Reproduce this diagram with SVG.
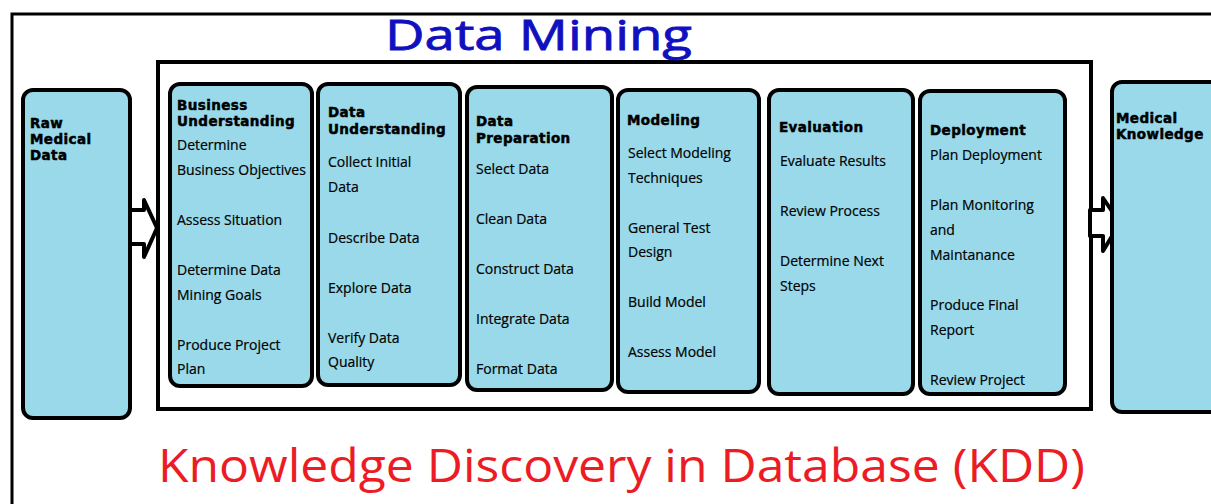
<svg xmlns="http://www.w3.org/2000/svg" width="1211" height="504" viewBox="0 0 1211 504">
<style>
.box{fill:#99d9ea;stroke:#000;stroke-width:4}
.hd{font-family:"DejaVu Sans",sans-serif;font-weight:bold;font-size:13.5px;letter-spacing:0.4px;fill:#000;stroke:#000;stroke-width:0.5}
.it{font-family:"Open Sans","Liberation Sans",sans-serif;font-size:14px;fill:#000;stroke:#000;stroke-width:0.2}
.arr{fill:#fff;stroke:#000;stroke-width:4;stroke-linejoin:round}
</style>
<rect width="1211" height="504" fill="#fff"/>
<rect x="12" y="14" width="1300" height="600" fill="none" stroke="#000" stroke-width="3"/>
<rect id="data-mining-frame" x="158" y="62" width="933" height="347" fill="none" stroke="#000" stroke-width="4"/>
<text x="385" y="50" font-family="Open Sans, sans-serif" font-size="42" fill="#1010c0" stroke="#1010c0" stroke-width="0.8" textLength="307" lengthAdjust="spacingAndGlyphs">Data Mining</text>
<text x="158" y="482" font-family="Open Sans, sans-serif" font-size="46" fill="#ec1c24" textLength="927" lengthAdjust="spacingAndGlyphs">Knowledge Discovery in Database (KDD)</text>

<g id="connectors">
<polygon class="arr" points="130,210 144,210 144,200 157,228 144,257 144,244 130,244"/>
<polygon class="arr" points="1090,210 1103,210 1103,198 1120,223 1103,251 1103,236 1090,236"/>
</g>

<g id="raw">
<rect class="box" x="23" y="90" width="107" height="328" rx="10"/>
<text class="hd" x="30" y="128">Raw</text>
<text class="hd" x="30" y="144">Medical</text>
<text class="hd" x="30" y="160">Data</text>
</g>

<g id="business">
<rect class="box" x="170" y="84" width="142" height="302" rx="10"/>
<text class="hd" x="177" y="110">Business</text>
<text class="hd" x="177" y="126">Understanding</text>
<text class="it" x="177" y="150">Determine</text>
<text class="it" x="177" y="175">Business Objectives</text>
<text class="it" x="177" y="225">Assess Situation</text>
<text class="it" x="177" y="275">Determine Data</text>
<text class="it" x="177" y="300">Mining Goals</text>
<text class="it" x="177" y="350">Produce Project</text>
<text class="it" x="177" y="374">Plan</text>
</g>

<g id="data-understanding">
<rect class="box" x="318" y="84" width="142" height="301" rx="10"/>
<text class="hd" x="328" y="117">Data</text>
<text class="hd" x="328" y="134">Understanding</text>
<text class="it" x="328" y="167">Collect Initial</text>
<text class="it" x="328" y="192">Data</text>
<text class="it" x="328" y="243">Describe Data</text>
<text class="it" x="328" y="293">Explore Data</text>
<text class="it" x="328" y="343">Verify Data</text>
<text class="it" x="328" y="367">Quality</text>
</g>

<g id="data-preparation">
<rect class="box" x="467" y="87" width="145" height="303" rx="10"/>
<text class="hd" x="476" y="126">Data</text>
<text class="hd" x="476" y="143">Preparation</text>
<text class="it" x="476" y="174">Select Data</text>
<text class="it" x="476" y="224">Clean Data</text>
<text class="it" x="476" y="274">Construct Data</text>
<text class="it" x="476" y="324">Integrate Data</text>
<text class="it" x="476" y="374">Format Data</text>
</g>

<g id="modeling">
<rect class="box" x="618" y="90" width="141" height="302" rx="10"/>
<text class="hd" x="627" y="125">Modeling</text>
<text class="it" x="628" y="158">Select Modeling</text>
<text class="it" x="628" y="183">Techniques</text>
<text class="it" x="628" y="233">General Test</text>
<text class="it" x="628" y="257">Design</text>
<text class="it" x="628" y="307">Build Model</text>
<text class="it" x="628" y="357">Assess Model</text>
</g>

<g id="evaluation">
<rect class="box" x="769" y="90" width="144" height="304" rx="10"/>
<text class="hd" x="779" y="132">Evaluation</text>
<text class="it" x="780" y="166">Evaluate Results</text>
<text class="it" x="780" y="216">Review Process</text>
<text class="it" x="780" y="266">Determine Next</text>
<text class="it" x="780" y="291">Steps</text>
</g>

<g id="deployment">
<rect class="box" x="920" y="91" width="145" height="303" rx="10"/>
<text class="hd" x="930" y="135">Deployment</text>
<text class="it" x="930" y="160">Plan Deployment</text>
<text class="it" x="930" y="210">Plan Monitoring</text>
<text class="it" x="930" y="235">and</text>
<text class="it" x="930" y="260">Maintanance</text>
<text class="it" x="930" y="310">Produce Final</text>
<text class="it" x="930" y="335">Report</text>
<text class="it" x="930" y="385">Review Project</text>
</g>

<g id="medical-knowledge">
<rect class="box" x="1112" y="82" width="130" height="330" rx="10"/>
<text class="hd" x="1116" y="123">Medical</text>
<text class="hd" x="1116" y="139">Knowledge</text>
</g>
</svg>
